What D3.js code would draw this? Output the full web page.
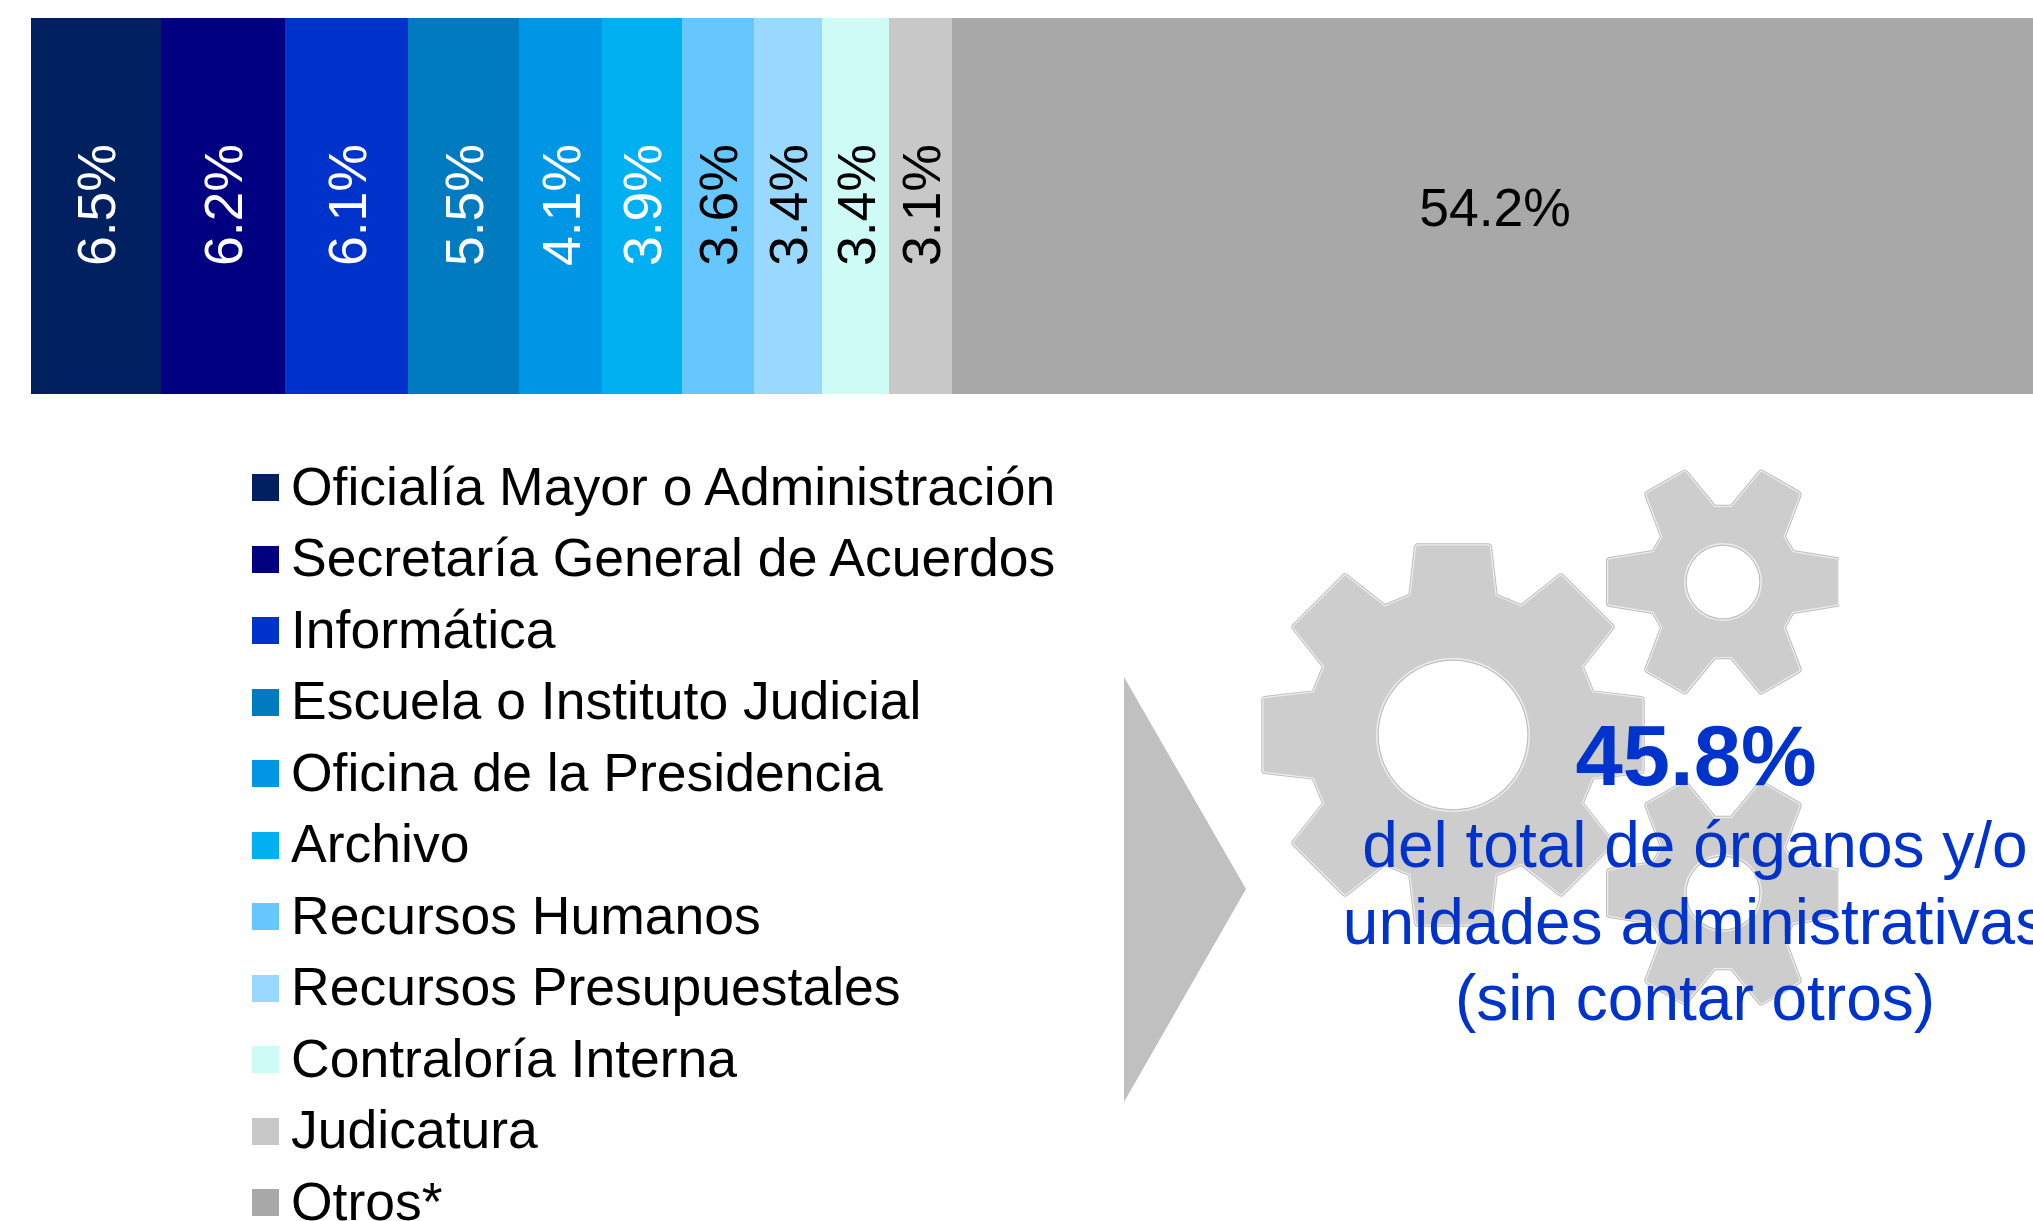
<!DOCTYPE html>
<html><head><meta charset="utf-8">
<script src="https://cdn.jsdelivr.net/npm/d3@7"></script>
<style>html,body{margin:0;padding:0;background:#fff;overflow:hidden}svg{display:block}text{font-family:"Liberation Sans",Arial,sans-serif}</style>
</head><body><svg id="c" width="2033" height="1221"></svg>
<script>
const categories=["Oficialía Mayor o Administración","Secretaría General de Acuerdos","Informática","Escuela o Instituto Judicial","Oficina de la Presidencia","Archivo","Recursos Humanos","Recursos Presupuestales","Contraloría Interna","Judicatura","Otros*"];
const shares=[6.48,6.18,6.13,5.549,4.13,3.949,3.6,3.38,3.36,3.14,54.2];
const colors=["#002060","#000080","#0033CC","#007BC0","#0096E6","#00B0F0","#66C7FF","#99D9FF","#CFFBF7","#C8C8C8","#A8A8A8"];
const labelColors=["#fff","#fff","#fff","#fff","#fff","#fff","#000","#000","#000","#000","#000"];
const calloutValue="45.8%";
const calloutLines=["del total de órganos y/o","unidades administrativas","(sin contar otros)"];
const svg=d3.select("#c");
const x=d3.scaleLinear().domain([0,100]).range([31,2038]);
const legendY=d3.scalePoint().domain(categories).range([487.5,1202.5]);
const starts=[0,...d3.cumsum(shares)];
const px=i=>Math.round(x(starts[i]));
const fmt=d=>d3.format(".1f")(d)+"%";
const deg=Math.PI/180;
function gear(teeth,off,rTip,rRoot,tipHalf,rootHalf){
  const pts=[];
  d3.range(teeth).forEach(i=>{const a=off+i*2*Math.PI/teeth;
    pts.push([a-rootHalf,rRoot],[a-tipHalf,rTip],[a+tipHalf,rTip],[a+rootHalf,rRoot]);});
  return d3.lineRadial().curve(d3.curveLinearClosed)(pts);
}
const gears=[
 {id:"g0",cx:1453,cy:735,t:8,off:0,tip:191,root:144,th:10.6*deg,rh:16.5*deg,hole:75,clip:[1261,1700]},
 {id:"g1",cx:1723,cy:582,t:6,off:30*deg,tip:115,root:74,th:10.5*deg,rh:22.5*deg,hole:37,clip:[1590,1839]},
 {id:"g2",cx:1723,cy:893,t:6,off:30*deg,tip:115,root:74,th:10.5*deg,rh:22.5*deg,hole:37,clip:[1590,1839]}];
const defs=svg.append("defs");
const gg=svg.append("g");
gears.forEach(g=>{
  defs.append("clipPath").attr("id",g.id).append("rect").attr("x",g.clip[0]).attr("y",0).attr("width",g.clip[1]-g.clip[0]).attr("height",1221);
  const w=gg.append("g").attr("clip-path",`url(#${g.id})`);
  const d=gear(g.t,g.off,g.tip,g.root,g.th,g.rh);
  [["#BDBDBD",8],["#EDEDED",6],["#CDCDCD",3.5]].forEach(([c,sw])=>{
    w.append("path").attr("transform",`translate(${g.cx},${g.cy})`).attr("d",d).attr("fill","#CDCDCD").attr("stroke",c).attr("stroke-width",sw).attr("stroke-linejoin","round");
  });
  [["#EDEDED",g.hole+2],["#BDBDBD",g.hole+0.5],["#fff",g.hole-0.7]].forEach(([c,r])=>{
    w.append("circle").attr("cx",g.cx).attr("cy",g.cy).attr("r",r).attr("fill",c);
  });
});
svg.selectAll("rect.seg").data(shares).join("rect").attr("class","seg")
 .attr("x",(d,i)=>px(i)).attr("y",18).attr("height",376)
 .attr("width",(d,i)=>px(i+1)-px(i)).attr("fill",(d,i)=>colors[i]);
svg.selectAll("text.val").data(shares).join("text").attr("class","val")
 .attr("text-anchor",(d,i)=>i==10?"middle":"start").attr("font-size",53.5)
 .attr("fill",(d,i)=>labelColors[i])
 .attr("transform",(d,i)=>{const c=(px(i)+px(i+1))/2;
   return i==10?`translate(${c-1},226)`:`translate(${c+19},266) rotate(-90)`;})
 .text(fmt);
svg.selectAll("rect.key").data(categories).join("rect").attr("class","key")
 .attr("x",252).attr("width",27).attr("height",27).attr("y",d=>Math.round(legendY(d)-13.5)).attr("fill",(d,i)=>colors[i]);
svg.selectAll("text.lab").data(categories).join("text").attr("class","lab")
 .attr("x",291).attr("y",d=>legendY(d)+17).attr("font-size",53.5).attr("fill","#000").text(d=>d);
svg.append("path").attr("d",d3.line()([[1124,677],[1246,889],[1124,1102]])+"Z").attr("fill","#C0C0C0");
svg.append("text").attr("x",1696).attr("y",785).attr("text-anchor","middle").attr("font-size",85).attr("font-weight","bold").attr("fill","#0033CC").text(calloutValue);
svg.selectAll("text.cl").data(calloutLines).join("text").attr("class","cl").attr("x",1695).attr("y",(d,i)=>867+i*76.5).attr("text-anchor","middle").attr("font-size",64).attr("fill","#0033CC").text(d=>d);
</script></body></html>
